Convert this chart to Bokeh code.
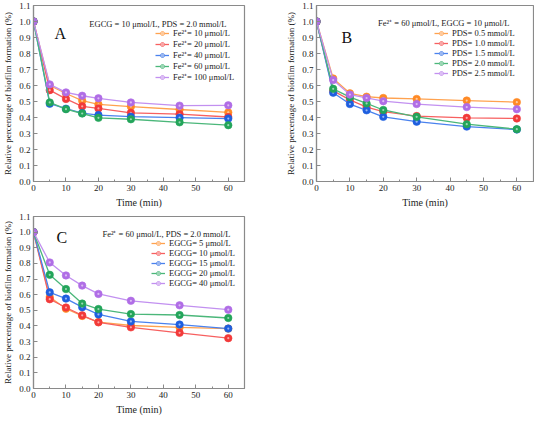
from bokeh.plotting import figure
from bokeh.models import (Legend, LegendItem, Label, FixedTicker, SingleIntervalTicker,
                          PrintfTickFormatter, Range1d)
from bokeh.layouts import column, row
from bokeh.embed import file_html
from bokeh.resources import INLINE

# ---------------- data ----------------
time_min = [0, 5, 10, 15, 20, 30, 45, 60]

# Panel A: EGCG = 10 umol/L, PDS = 2.0 mmol/L, varying Fe2+
a_labels = ["Fe²⁺= 10 μmol/L", "Fe²⁺= 20 μmol/L", "Fe²⁺= 40 μmol/L",
            "Fe²⁺= 60 μmol/L", "Fe²⁺= 100 μmol/L"]
a_fe10 = [1.0, 0.600, 0.550, 0.505, 0.482, 0.468, 0.450, 0.432]
a_fe20 = [1.0, 0.571, 0.516, 0.470, 0.457, 0.429, 0.421, 0.403]
a_fe40 = [1.0, 0.486, 0.455, 0.428, 0.415, 0.405, 0.399, 0.393]
a_fe60 = [1.0, 0.494, 0.452, 0.425, 0.398, 0.389, 0.370, 0.352]
a_fe100 = [1.0, 0.607, 0.557, 0.536, 0.520, 0.494, 0.474, 0.476]

# Panel B: Fe2+ = 60 umol/L, EGCG = 10 umol/L, varying PDS
b_labels = ["PDS= 0.5 mmol/L", "PDS= 1.0 mmol/L", "PDS= 1.5 mmol/L",
            "PDS= 2.0 mmol/L", "PDS= 2.5 mmol/L"]
b_pds05 = [1.0, 0.644, 0.551, 0.530, 0.522, 0.516, 0.506, 0.496]
b_pds10 = [1.0, 0.566, 0.510, 0.465, 0.437, 0.409, 0.398, 0.394]
b_pds15 = [1.0, 0.555, 0.484, 0.445, 0.404, 0.374, 0.343, 0.325]
b_pds20 = [1.0, 0.579, 0.527, 0.488, 0.447, 0.404, 0.358, 0.327]
b_pds25 = [1.0, 0.634, 0.543, 0.522, 0.502, 0.484, 0.465, 0.452]

# Panel C: Fe2+ = 60 umol/L, PDS = 2.0 mmol/L, varying EGCG
c_labels = ["EGCG= 5 μmol/L", "EGCG= 10 μmol/L", "EGCG= 15 μmol/L",
            "EGCG= 20 μmol/L", "EGCG= 40 μmol/L"]
c_egcg5 = [1.0, 0.585, 0.510, 0.464, 0.425, 0.403, 0.391, 0.383]
c_egcg10 = [1.0, 0.571, 0.518, 0.468, 0.423, 0.391, 0.356, 0.322]
c_egcg15 = [1.0, 0.615, 0.575, 0.520, 0.474, 0.429, 0.409, 0.383]
c_egcg20 = [1.0, 0.727, 0.636, 0.543, 0.508, 0.476, 0.470, 0.451]
c_egcg40 = [1.0, 0.806, 0.723, 0.658, 0.605, 0.561, 0.532, 0.504]

y_ticks = [0.0, 0.1, 0.2, 0.3, 0.4, 0.5, 0.6, 0.7, 0.8, 0.9, 1.0, 1.1]

marker_colors = ["#FF8A25", "#F23A3A", "#1F5FDF", "#23A55A", "#B06DE6"]
line_colors = ["#FFA24F", "#F76060", "#4A82EE", "#4BB77A", "#C290F0"]

FONT = "Liberation Serif"
AXIS_COLOR = "#8a8a8a"


def make_panel(series, labels, header, letter, width, height, bl, br, bt, bb,
               leg_loc, header_xy, letter_xy):
    p = figure(width=width, height=height, output_backend="svg", toolbar_location=None,
               x_range=Range1d(0, 65), y_range=Range1d(0, 1.1),
               min_border_left=bl, min_border_right=br, min_border_top=bt,
               min_border_bottom=bb)
    p.xgrid.visible = False
    p.ygrid.visible = False
    p.outline_line_color = AXIS_COLOR
    p.outline_line_width = 1.2
    p.background_fill_color = "white"
    p.border_fill_color = "white"

    p.xaxis.ticker = SingleIntervalTicker(interval=10, num_minor_ticks=2)
    p.yaxis.ticker = FixedTicker(ticks=y_ticks)
    p.yaxis.formatter = PrintfTickFormatter(format="%.1f")
    for ax in (p.xaxis, p.yaxis):
        ax.axis_line_color = AXIS_COLOR
        ax.axis_line_width = 1.2
        ax.major_tick_line_color = AXIS_COLOR
        ax.minor_tick_line_color = AXIS_COLOR
        ax.major_tick_in = 4
        ax.major_tick_out = 0
        ax.minor_tick_in = 2
        ax.minor_tick_out = 0
        ax.major_label_text_font = FONT
        ax.major_label_text_font_size = "9px"
        ax.major_label_text_color = "#222222"
        ax.major_label_standoff = 3
        ax.axis_label_text_font = FONT
        ax.axis_label_text_font_style = "normal"
        ax.axis_label_text_color = "#222222"
        ax.axis_label_standoff = 3
    p.xaxis.axis_label = "Time (min)"
    p.xaxis.axis_label_text_font_size = "10px"
    p.yaxis.axis_label = "Relative percentage of biofilm formation (%)"
    p.yaxis.axis_label_text_font_size = "9px"
    p.yaxis.minor_tick_line_color = None

    items = []
    for vals, lab, mc, lc in zip(series, labels, marker_colors, line_colors):
        ln = p.line(time_min, vals, line_color=lc, line_width=1.3)
        sc = p.scatter(time_min, vals, size=7.5, marker="circle", fill_color=mc,
                       line_color=mc, line_width=0.6)
        hl = p.scatter(time_min, vals, size=2.2, marker="circle", fill_color="white",
                       fill_alpha=0.55, line_color=None)
        items.append(LegendItem(label=lab, renderers=[ln, sc, hl]))

    leg = Legend(items=items, location=leg_loc, orientation="vertical",
                 label_text_font=FONT, label_text_font_size="8.5px",
                 label_text_color="#222222",
                 glyph_width=14, glyph_height=10, label_height=9,
                 label_standoff=4, spacing=0, padding=0, margin=0,
                 border_line_color=None, background_fill_alpha=0)
    p.add_layout(leg, "center")

    p.add_layout(Label(x=header_xy[0], y=header_xy[1], x_units="screen", y_units="screen",
                       text=header, text_font=FONT, text_font_size="8.5px",
                       text_color="#222222", text_align="right", text_baseline="middle"))
    p.add_layout(Label(x=letter_xy[0], y=letter_xy[1], x_units="screen", y_units="screen",
                       text=letter, text_font=FONT, text_font_size="16px",
                       text_color="#111111", text_align="left",
                       text_baseline="alphabetic"))
    return p


pA = make_panel([a_fe10, a_fe20, a_fe40, a_fe60, a_fe100], a_labels,
                "EGCG = 10 μmol/L, PDS = 2.0 mmol/L", "A",
                width=266, height=211, bl=27, br=22, bt=5, bb=30,
                leg_loc=(122, 99), header_xy=(193, 158), letter_xy=(21, 148))
pB = make_panel([b_pds05, b_pds10, b_pds15, b_pds20, b_pds25], b_labels,
                "Fe²⁺ = 60 μmol/L, EGCG = 10 μmol/L", "B",
                width=268, height=211, bl=50, br=1, bt=5, bb=30,
                leg_loc=(118, 103), header_xy=(193, 159), letter_xy=(25, 144))
pC = make_panel([c_egcg5, c_egcg10, c_egcg15, c_egcg20, c_egcg40], c_labels,
                "Fe²⁺ = 60 μmol/L, PDS = 2.0 mmol/L", "C",
                width=266, height=206, bl=27, br=22, bt=5, bb=26,
                leg_loc=(118, 100), header_xy=(197, 155), letter_xy=(23, 151))

layout = column(row(pA, pB), row(pC))
open("out.html", "w").write(file_html(layout, INLINE))
